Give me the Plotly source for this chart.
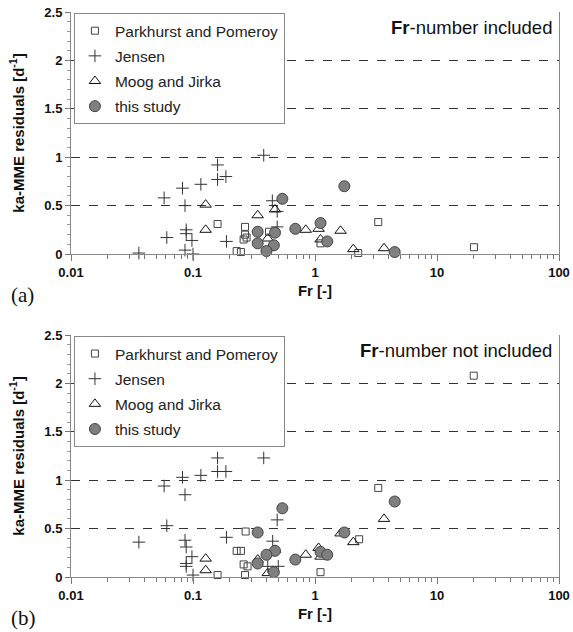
import plotly.graph_objects as go
from plotly.subplots import make_subplots

# ---- data: panel (a) Fr-number included ----
pp_fr_a = [0.159, 0.267, 0.267, 0.26, 0.275, 0.228, 0.247, 0.42, 3.3, 20.1, 2.26, 1.11]
pp_res_a = [0.31, 0.28, 0.20, 0.15, 0.17, 0.03, 0.02, 0.23, 0.33, 0.07, 0.01, 0.11]
je_fr_a = [0.38, 0.159, 0.159, 0.186, 0.116, 0.082, 0.058, 0.086, 0.447, 0.49, 0.49,
           0.088, 0.088, 0.061, 0.098, 0.188, 0.036, 0.086, 0.10]
je_res_a = [1.02, 0.92, 0.77, 0.80, 0.72, 0.68, 0.58, 0.50, 0.55, 0.44, 0.28,
            0.25, 0.21, 0.17, 0.14, 0.13, 0.01, 0.04, 0.0]
mj_fr = [0.127, 0.127, 0.339, 0.47, 0.41, 0.84, 1.07, 1.62, 1.11, 2.06, 3.68]
mj_res_a = [0.51, 0.25, 0.40, 0.46, 0.16, 0.25, 0.26, 0.24, 0.15, 0.05, 0.06]
ts_fr = [0.54, 0.339, 0.47, 0.69, 0.339, 0.46, 0.40, 1.11, 1.26, 1.74, 4.5]
ts_res_a = [0.57, 0.23, 0.22, 0.26, 0.11, 0.09, 0.03, 0.32, 0.13, 0.70, 0.02]

# ---- data: panel (b) Fr-number not included ----
pp_fr_b = [0.27, 0.228, 0.247, 0.26, 0.28, 0.159, 0.267, 3.3, 2.3, 1.11, 20.0]
pp_res_b = [0.47, 0.27, 0.27, 0.13, 0.11, 0.02, 0.02, 0.92, 0.39, 0.05, 2.08]
je_fr_b = [0.159, 0.38, 0.159, 0.186, 0.116, 0.082, 0.058, 0.086, 0.061, 0.036, 0.086,
           0.088, 0.098, 0.088, 0.088, 0.188, 0.49, 0.45, 0.41, 0.50, 0.10]
je_res_b = [1.23, 1.23, 1.09, 1.09, 1.05, 1.03, 0.94, 0.85, 0.53, 0.36, 0.38,
            0.31, 0.21, 0.14, 0.11, 0.41, 0.59, 0.37, 0.11, 0.11, 0.02]
mj_res_b = [0.19, 0.07, 0.18, 0.28, 0.04, 0.23, 0.30, 0.45, 0.21, 0.36, 0.60]
ts_res_b = [0.71, 0.46, 0.27, 0.18, 0.14, 0.05, 0.23, 0.26, 0.23, 0.46, 0.78]

series_names = ["Parkhurst and Pomeroy", "Jensen", "Moog and Jirka", "this study"]
x_tick_vals = [0.01, 0.1, 1, 10, 100]
x_tick_text = ["0.01", "0.1", "1", "10", "100"]
x_minor_vals = [m * 10 ** e for e in (-2, -1, 0, 1) for m in range(2, 10)]
y_tick_vals = [0, 0.5, 1, 1.5, 2, 2.5]
y_tick_text = ["0", "0.5", "1", "1.5", "2", "2.5"]
panel_titles = ["<b>Fr</b>-number included", "<b>Fr</b>-number not included"]
panel_labels = ["(a)", "(b)"]

FONT = "Liberation Sans, Arial, sans-serif"

styles = [
    dict(symbol="square-open", size=7, color="#444", line=dict(width=1, color="#444")),
    dict(symbol="cross-thin-open", size=9, color="#333", line=dict(width=1, color="#333")),
    dict(symbol="triangle-up-open", size=10, color="#111", line=dict(width=1, color="#111")),
    dict(symbol="circle", size=11, color="#7f7f7f", line=dict(width=1, color="#444")),
]

W, H = 573, 632
fig = make_subplots(rows=2, cols=1, vertical_spacing=81 / 565)

panels = [
    [(pp_fr_a, pp_res_a), (je_fr_a, je_res_a), (mj_fr, mj_res_a), (ts_fr, ts_res_a)],
    [(pp_fr_b, pp_res_b), (je_fr_b, je_res_b), (mj_fr, mj_res_b), (ts_fr, ts_res_b)],
]

for p, data in enumerate(panels):
    for i, (xs, ys) in enumerate(data):
        fig.add_trace(go.Scatter(
            x=xs, y=ys, mode="markers", name=series_names[i],
            marker=styles[i], cliponaxis=False,
            legend="legend" if p == 0 else "legend2",
            legendgroup=f"g{p}{i}",
        ), row=p + 1, col=1)

for p in range(2):
    r = p + 1
    fig.update_xaxes(
        type="log", range=[-2, 2], row=r, col=1, automargin=False,
        tickvals=x_tick_vals, ticktext=x_tick_text,
        ticks="outside", ticklen=6, tickcolor="#777",
        minor=dict(tickvals=x_minor_vals, ticks="outside", ticklen=4, tickcolor="#777", showgrid=False),
        showline=True, linecolor="#888", linewidth=1, showgrid=False, zeroline=False,
        tickfont=dict(family=FONT, size=13, color="#111", weight="bold"),
        title=dict(text="Fr [-]", font=dict(family=FONT, size=15, color="#111", weight="bold"), standoff=6),
    )
    fig.update_yaxes(
        range=[0, 2.5], row=r, col=1, automargin=False,
        tickvals=y_tick_vals, ticktext=y_tick_text,
        ticks="outside", ticklen=5, tickcolor="#777",
        minor=dict(dtick=0.1, ticks="outside", ticklen=3, tickcolor="#999", showgrid=False),
        showline=True, linecolor="#888", linewidth=1, mirror=True,
        showgrid=True, gridcolor="#333", griddash="dash", gridwidth=1, zeroline=False,
        tickfont=dict(family=FONT, size=13, color="#111", weight="bold"),
        title=dict(text="ka-MME residuals [d<sup>-1</sup>]",
                   font=dict(family=FONT, size=15, color="#111", weight="bold"), standoff=16),
    )

for p in range(2):
    xref = "x domain" if p == 0 else "x2 domain"
    yref = "y domain" if p == 0 else "y2 domain"
    fig.add_annotation(text=panel_titles[p], xref=xref, yref=yref, x=0.99, y=0.935,
                       xanchor="right", yanchor="middle", showarrow=False,
                       font=dict(family=FONT, size=18.5, color="#111"))
    fig.add_annotation(text=panel_labels[p], xref=xref, yref=yref, x=-0.128, y=-0.17,
                       xanchor="left", yanchor="middle", showarrow=False,
                       font=dict(family="Liberation Serif, Times New Roman, serif", size=21, color="#111"))

legend_common = dict(
    x=0.006, xanchor="left", yanchor="top",
    bgcolor="white", bordercolor="#888", borderwidth=1,
    font=dict(family=FONT, size=15.5, color="#222"),
    traceorder="grouped", tracegroupgap=2, itemwidth=30,
)
fig.update_layout(
    width=W, height=H,
    margin=dict(l=71, r=14, t=12, b=55),
    plot_bgcolor="white", paper_bgcolor="white",
    showlegend=True,
    legend=dict(y=0.998, **legend_common),
    legend2=dict(y=0.4266, **legend_common),
    font=dict(family=FONT),
)

fig.write_html("out.html", config={"displayModeBar": False},
               post_script="document.body.style.margin='0';document.body.style.overflow='hidden';")
